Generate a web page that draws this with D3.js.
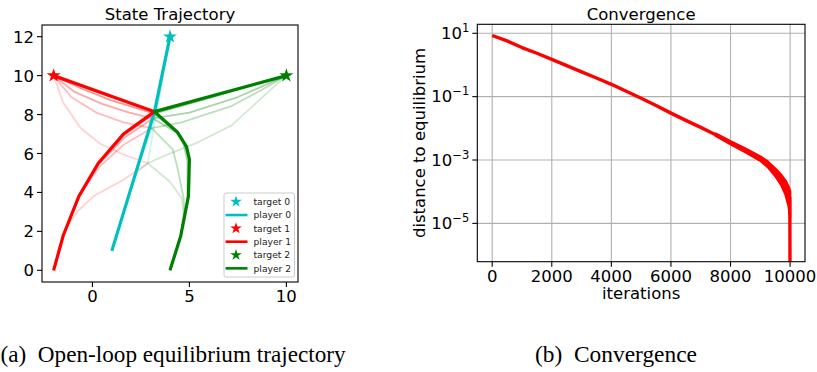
<!DOCTYPE html>
<html><head><meta charset="utf-8">
<script src="https://cdn.jsdelivr.net/npm/d3@7"></script>
<style>body{margin:0;background:#fff}svg{display:block}</style>
</head><body>
<svg id="c" width="817" height="372"></svg>
<script>
// ---------------- data: state trajectory ----------------
const playerNames = ["player 0", "player 1", "player 2"];
const targetNames = ["target 0", "target 1", "target 2"];
const playerColors = ["#00bfbf", "#ff0000", "#008000"];
const targets = [[4, 12], [-2, 10], [10, 10]];
const iterateAlpha = [0.18, 0.26, 0.34, 0.42];

// earlier iterates (faint) for each player
const player0Iterates = [
  [[1,1],[2.25,5.0],[2.85,5.5],[3.3,8.1],[4,12]],
  [[1,1],[2.3,5.2],[3.05,7.3],[3.3,8.3],[4,12]],
  [[1,1],[3.12,7.8],[4,12]],
  [[1,1],[3.18,8.05],[4,12]]
];
const player1Iterates = [
  [[-2,0],[-1.55,1.7],[-1.4,2.1],[-0.8,3.0],[0.05,3.8],[1.6,4.65],[2.85,5.5],[1.6,5.95],[0.4,6.5],[-0.6,7.3],[-1.5,8.6],[-2,10]],
  [[-2,0],[-1.5,1.8],[-0.75,3.75],[0.35,5.3],[1.6,6.45],[3.05,7.3],[1.6,7.6],[0.2,8.1],[-1.1,8.9],[-2,10]],
  [[-2,0],[-1.5,1.8],[-0.72,3.78],[0.3,5.42],[1.6,6.78],[3.12,7.8],[1.9,8.1],[0.5,8.55],[-0.9,9.15],[-2,10]],
  [[-2,0],[-1.5,1.8],[-0.7,3.8],[0.3,5.48],[1.6,6.92],[3.18,8.05],[0.9,8.75],[-0.6,9.35],[-2,10]]
];
const player2Iterates = [
  [[4,0],[4.55,1.75],[4.7,2.9],[4.6,3.7],[4.0,4.55],[2.85,5.5],[3.8,5.92],[5.5,6.6],[7.2,7.46],[8.6,8.74],[10,10]],
  [[4,0],[4.55,1.75],[4.75,2.92],[4.7,3.7],[4.4,5.2],[4.15,6.2],[3.05,7.3],[4.6,7.6],[7.2,8.45],[8.7,9.25],[10,10]],
  [[4,0],[4.55,1.75],[4.9,3.7],[4.9,5.6],[4.7,6.5],[4.3,7.1],[3.12,7.8],[5.0,8.1],[7.5,8.9],[10,10]],
  [[4,0],[4.55,1.75],[4.95,3.8],[5.0,5.7],[4.8,6.4],[4.35,7.1],[3.18,8.05],[5.5,8.7],[10,10]]
];
// final equilibrium trajectories (bold)
const player0Final = [[1,1],[3.2,8.15],[4,12]];
const player1Final = [[-2,0],[-1.5,1.8],[-0.7,3.8],[0.3,5.5],[1.6,7.0],[3.2,8.15],[-2,10]];
const player2Final = [[4,0],[4.55,1.75],[4.95,3.8],[5.0,5.7],[4.85,6.35],[4.4,7.08],[3.2,8.15],[10,10]];
const xTicksA = [0, 5, 10];
const yTicksA = [0, 2, 4, 6, 8, 10, 12];

// ---------------- data: convergence ----------------
const iterations = [0,500,1000,1500,2000,2500,3000,3500,4000,4500,5000,5500,6000,6500,7000,7500,8000,8500,9000,9250,9500,9700,9850,9950,9990,9999];
const distance = [8.51,5.75,3.55,2.34,1.51,0.955,0.603,0.389,0.245,0.148,0.0891,0.0525,0.0302,0.0178,0.0107,0.00631,0.00355,0.00204,0.00112,0.00074,0.000417,0.00024,0.000135,0.000089,0.000063,0.0000001];
const bandIterations = [7500,8000,8500,9000,9250,9500,9700,9850,9950,9999];
const bandUpper = [0.00676,0.00389,0.00229,0.00129,0.000891,0.000537,0.000339,0.000219,0.000141,0.0001];
const bandLower = [0.00589,0.00316,0.00178,0.000955,0.000603,0.000316,0.000166,0.0000794,0.0000355,0.0000158];
const xTicksB = [0, 2000, 4000, 6000, 8000, 10000];
const yTicksB = [1e1, 1e-1, 1e-3, 1e-5];
const yTickExpB = ["1", "\u22121", "\u22123", "\u22125"];

// ---------------- drawing ----------------
const svg = d3.select("#c");
const FONT = "DejaVu Sans, sans-serif";
const FS = 16.5;

// ===== Chart (a) =====
const A = {l: 42, r: 298, t: 25, b: 282};
const xA = d3.scaleLinear().domain([-2.6, 10.6]).range([A.l, A.r]);
const yA = d3.scaleLinear().domain([-0.6, 12.6]).range([A.b, A.t]);
svg.append("clipPath").attr("id", "clipA").append("rect")
  .attr("x", A.l).attr("y", A.t).attr("width", A.r - A.l).attr("height", A.b - A.t);
const gA = svg.append("g").attr("clip-path", "url(#clipA)");
const lineA = d3.line().x(d => xA(d[0])).y(d => yA(d[1]));
const allIterates = [player0Iterates, player1Iterates, player2Iterates];
const allFinal = [player0Final, player1Final, player2Final];
const starSym = d3.symbol().type(d3.symbolStar);

for (let p = 0; p < 3; p++) {
  allIterates[p].forEach((path, k) => {
    gA.append("path").attr("d", lineA(path)).attr("fill", "none")
      .attr("stroke", playerColors[p]).attr("stroke-opacity", iterateAlpha[k])
      .attr("stroke-width", 1.8).attr("stroke-linejoin", "round");
  });
}
for (let p = 0; p < 3; p++) {
  gA.append("path").attr("d", lineA(allFinal[p])).attr("fill", "none")
    .attr("stroke", playerColors[p]).attr("stroke-width", 3.2).attr("stroke-linejoin", "round");
}
for (let p = 0; p < 3; p++) {
  gA.append("path").attr("d", starSym.size(60)())
    .attr("transform", `translate(${xA(targets[p][0])},${yA(targets[p][1])})`)
    .attr("fill", playerColors[p]);
}

// axes frame
function frame(b) {
  svg.append("rect").attr("x", b.l).attr("y", b.t).attr("width", b.r - b.l).attr("height", b.b - b.t)
    .attr("fill", "none").attr("stroke", "#000").attr("stroke-width", 1.1);
}
frame(A);
xTicksA.forEach(v => {
  const x = xA(v);
  svg.append("line").attr("x1", x).attr("x2", x).attr("y1", A.b).attr("y2", A.b + 5).attr("stroke", "#000").attr("stroke-width", 1.1);
  svg.append("text").attr("x", x).attr("y", A.b + 20).attr("text-anchor", "middle")
    .attr("font-family", FONT).attr("font-size", FS).text(v);
});
yTicksA.forEach(v => {
  const y = yA(v);
  svg.append("line").attr("x1", A.l - 5).attr("x2", A.l).attr("y1", y).attr("y2", y).attr("stroke", "#000").attr("stroke-width", 1.1);
  svg.append("text").attr("x", A.l - 8).attr("y", y + 6).attr("text-anchor", "end")
    .attr("font-family", FONT).attr("font-size", FS).text(v);
});
svg.append("text").attr("x", (A.l + A.r) / 2).attr("y", 19.5).attr("text-anchor", "middle")
  .attr("font-family", FONT).attr("font-size", FS).text("State Trajectory");

// legend
const lg = svg.append("g");
lg.append("rect").attr("x", 224).attr("y", 193).attr("width", 70.5).attr("height", 84).attr("rx", 2)
  .attr("fill", "#fff").attr("fill-opacity", 0.8).attr("stroke", "#cccccc").attr("stroke-width", 1);
const legendItems = [];
for (let p = 0; p < 3; p++) {
  legendItems.push({type: "star", label: targetNames[p], color: playerColors[p]});
  legendItems.push({type: "line", label: playerNames[p], color: playerColors[p]});
}
legendItems.forEach((it, i) => {
  const y = 201.7 + i * 13.33;
  if (it.type === "star") {
    lg.append("path").attr("d", starSym.size(42)()).attr("transform", `translate(236,${y})`).attr("fill", it.color);
  } else {
    lg.append("line").attr("x1", 225.5).attr("x2", 247.5).attr("y1", y).attr("y2", y)
      .attr("stroke", it.color).attr("stroke-width", 2.6);
  }
  lg.append("text").attr("x", 253.5).attr("y", y + 3.3).attr("font-family", FONT).attr("font-size", 9.2)
    .attr("fill", "#222").text(it.label);
});

// ===== Chart (b) =====
const B = {l: 477.3, r: 805, t: 24.3, b: 261.7};
const xB = d3.scaleLinear().domain([-500, 10500]).range([B.l, B.r]);
const yB = d3.scaleLog().domain([Math.pow(10, -6.21), Math.pow(10, 1.284)]).range([B.b, B.t]);
svg.append("clipPath").attr("id", "clipB").append("rect")
  .attr("x", B.l).attr("y", B.t).attr("width", B.r - B.l).attr("height", B.b - B.t);
const gridG = svg.append("g");
xTicksB.forEach(v => gridG.append("line").attr("x1", xB(v)).attr("x2", xB(v)).attr("y1", B.t).attr("y2", B.b)
  .attr("stroke", "#b0b0b0").attr("stroke-width", 1.1));
yTicksB.forEach(v => gridG.append("line").attr("x1", B.l).attr("x2", B.r).attr("y1", yB(v)).attr("y2", yB(v))
  .attr("stroke", "#b0b0b0").attr("stroke-width", 1.1));
const gB = svg.append("g").attr("clip-path", "url(#clipB)");
const bandData = bandIterations.map((it, i) => [it, bandUpper[i], bandLower[i]]);
gB.append("path").attr("d", d3.area().x(d => xB(d[0])).y0(d => yB(d[2])).y1(d => yB(d[1]))(bandData))
  .attr("fill", "#ff0000").attr("stroke", "#ff0000").attr("stroke-width", 2.5).attr("stroke-linejoin", "round");
gB.append("path").attr("d", d3.line().x((d, i) => xB(iterations[i])).y(d => yB(d))(distance))
  .attr("fill", "none").attr("stroke", "#ff0000").attr("stroke-width", 3.4).attr("stroke-linejoin", "round");
frame(B);
xTicksB.forEach(v => {
  const x = xB(v);
  svg.append("line").attr("x1", x).attr("x2", x).attr("y1", B.b).attr("y2", B.b + 5).attr("stroke", "#000").attr("stroke-width", 1.1);
  svg.append("text").attr("x", x).attr("y", B.b + 20).attr("text-anchor", "middle")
    .attr("font-family", FONT).attr("font-size", FS).text(v);
});
yTicksB.forEach((v, i) => {
  const y = yB(v);
  svg.append("line").attr("x1", B.l - 5).attr("x2", B.l).attr("y1", y).attr("y2", y).attr("stroke", "#000").attr("stroke-width", 1.1);
  const t = svg.append("text").attr("x", B.l - 8).attr("y", y + 5.5).attr("text-anchor", "end")
    .attr("font-family", FONT).attr("font-size", FS);
  t.append("tspan").text("10");
  t.append("tspan").attr("dy", -7).attr("font-size", 11.5).text(yTickExpB[i]);
});
svg.append("text").attr("x", (B.l + B.r) / 2).attr("y", 19.5).attr("text-anchor", "middle")
  .attr("font-family", FONT).attr("font-size", FS).text("Convergence");
svg.append("text").attr("x", (B.l + B.r) / 2).attr("y", 299).attr("text-anchor", "middle")
  .attr("font-family", FONT).attr("font-size", FS).text("iterations");
svg.append("text").attr("transform", `translate(425,${(B.t + B.b) / 2}) rotate(-90)`).attr("text-anchor", "middle")
  .attr("font-family", FONT).attr("font-size", FS).text("distance to equilibrium");

// captions
const SERIF = "Liberation Serif, Times New Roman, serif";
svg.append("text").attr("x", 0.5).attr("y", 361.7).attr("font-family", SERIF).attr("font-size", 23.2)
  .style("white-space", "pre").text("(a)  Open-loop equilibrium trajectory");
svg.append("text").attr("x", 535).attr("y", 361.7).attr("font-family", SERIF).attr("font-size", 23.4)
  .style("white-space", "pre").text("(b)  Convergence");
</script>
</body></html>
